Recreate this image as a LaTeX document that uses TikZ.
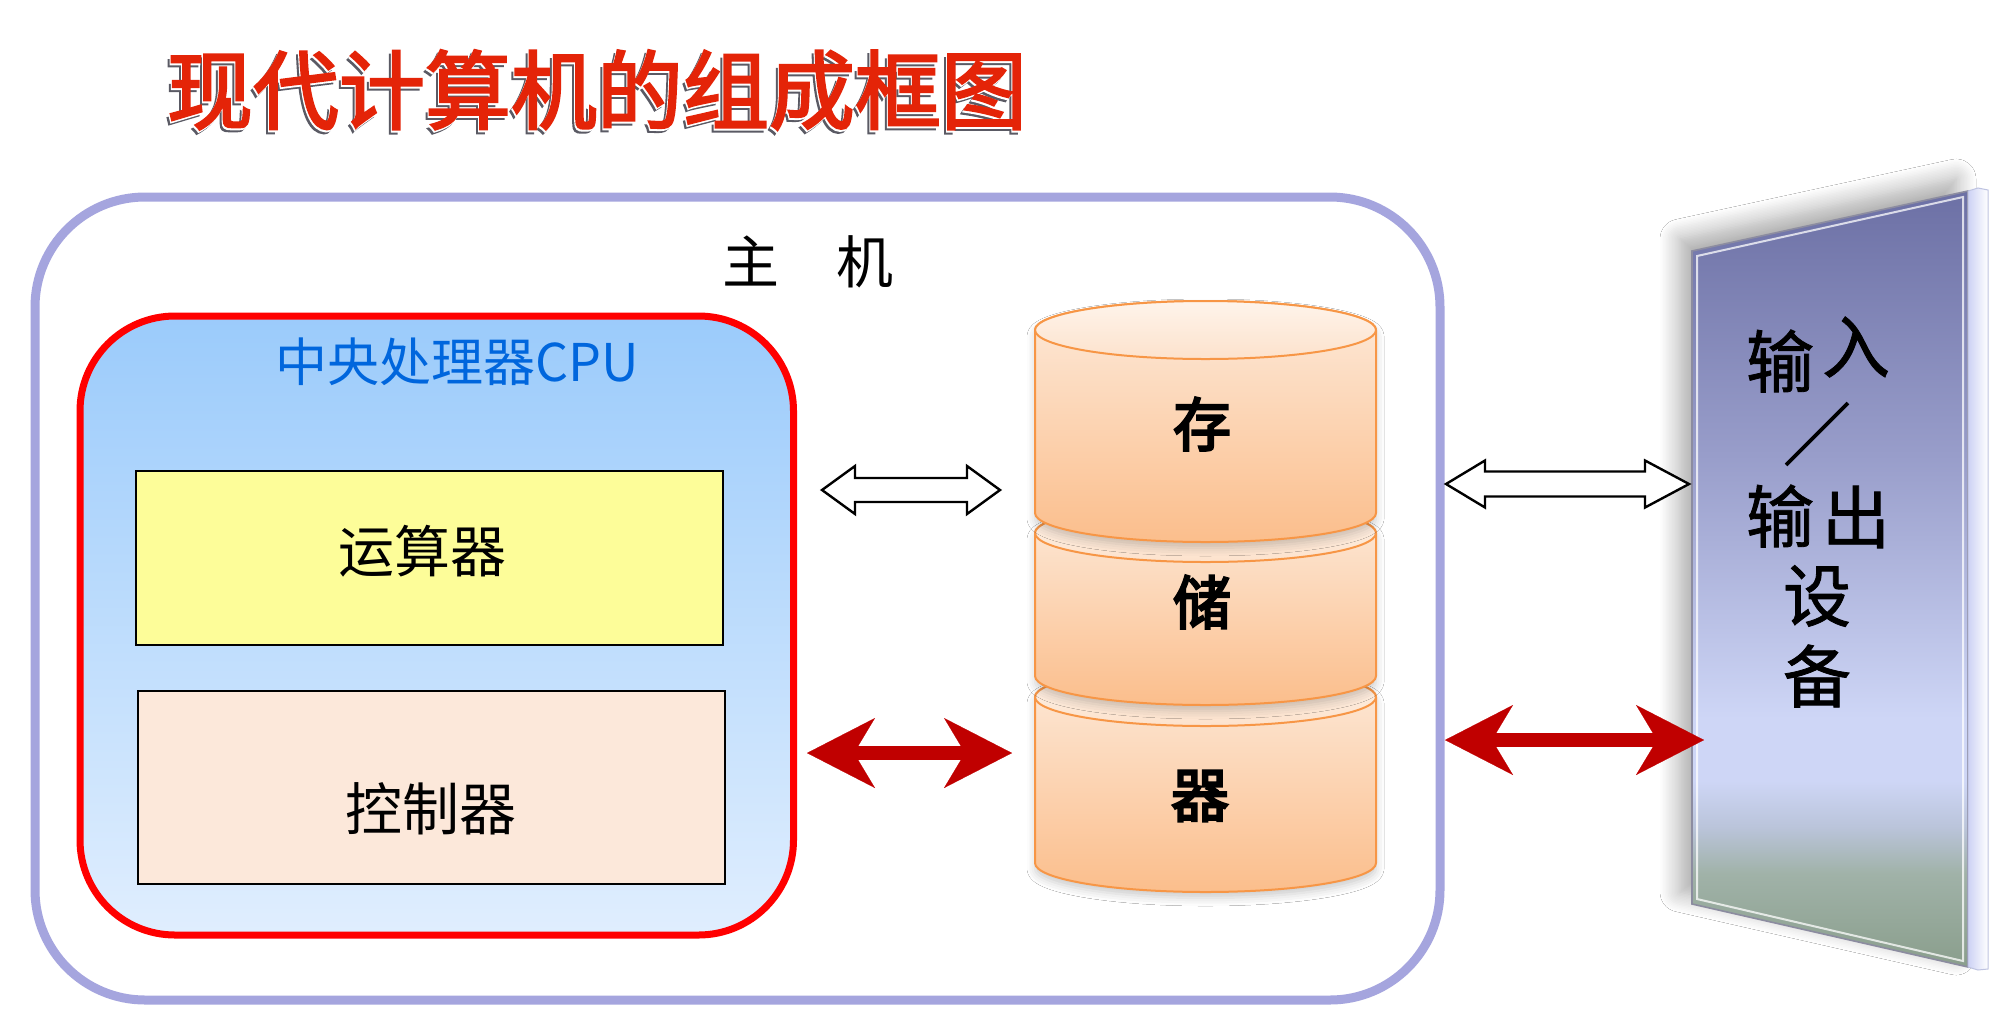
\documentclass[tikz,border=0pt]{standalone}
\usepackage{fontspec}
\usetikzlibrary{calc,arrows.meta,shadows.blur}
\newfontfamily\cjk{Noto Sans CJK SC}
\newfontfamily\cjktitle{Noto Sans CJK SC}[FakeBold=2.5]
\newfontfamily\cjkfb{Noto Sans CJK SC}[FakeBold=4]
\newfontfamily\cjkio{Noto Sans CJK SC}[FakeBold=1.2]
\definecolor{hostc}{RGB}{165,165,222}
\definecolor{cpured}{RGB}{255,0,0}
\definecolor{cputop}{RGB}{155,203,251}
\definecolor{cpubot}{RGB}{224,238,254}
\definecolor{aluf}{RGB}{253,253,153}
\definecolor{ctlf}{RGB}{252,232,218}
\definecolor{cyla}{RGB}{253,234,218}
\definecolor{cylb}{RGB}{251,190,140}
\definecolor{cylta}{RGB}{254,244,235}
\definecolor{cyltb}{RGB}{253,226,204}
\definecolor{cylline}{RGB}{247,150,70}
\definecolor{arrred}{RGB}{192,0,0}
\definecolor{titler}{RGB}{228,36,8}
\definecolor{titles}{RGB}{90,90,100}
\definecolor{cpublue}{RGB}{0,102,221}
\definecolor{ioT}{RGB}{108,112,165}
\definecolor{ioM}{RGB}{152,157,202}
\definecolor{ioL}{RGB}{206,214,246}
\definecolor{ioLb}{RGB}{186,196,218}
\definecolor{ioGb}{RGB}{160,178,168}
\definecolor{ioG}{RGB}{138,158,140}
\definecolor{slab}{RGB}{205,210,245}
\definecolor{panedge}{RGB}{140,140,160}
\definecolor{slabedge}{RGB}{190,195,225}
\pgfdeclareverticalshading{iopanel}{100bp}{color(0bp)=(ioG); color(25bp)=(ioG); color(31bp)=(ioGb); color(34bp)=(ioLb); color(37bp)=(ioL); color(41bp)=(ioL); color(58bp)=(ioM); color(75bp)=(ioT); color(100bp)=(ioT)}
\newcommand{\memcyl}[2]{%
  \path[cylbody] (1035,-#1) -- (1035,-#2) arc[start angle=180,end angle=360,x radius=170.5,y radius=29] -- (1376,-#1) arc[start angle=0,end angle=180,x radius=170.5,y radius=29] -- cycle;
  \path[cyltop] (1205.5,-#1) ellipse[x radius=170.5,y radius=29];
}
\newcommand{\titletext}{现代计算机的组成框图}
\begin{document}
\begin{tikzpicture}[x=0.5pt,y=0.5pt,
  txt/.style={inner sep=0pt,outer sep=0pt,anchor=center},
  cylbody/.style={draw=cylline,line width=1pt,top color=cyla,bottom color=cylb,
    blur shadow={shadow xshift=0pt,shadow yshift=-3pt,shadow blur radius=4pt,shadow opacity=20}},
  cyltop/.style={draw=cylline,line width=1pt,top color=cylta,bottom color=cyltb},
  hollow/.style={draw=black,line width=1.2pt,fill=white,line join=miter},
  redarrow/.style={draw=arrred,line width=7pt,
    {Stealth[length=34pt,width=35pt,inset=10.5pt,line width=0.1pt]}-{Stealth[length=34pt,width=35pt,inset=10.5pt,line width=0.1pt]}},
  innerbox/.style={draw=black,line width=0.9pt,inner sep=0pt},
  titlefont/.style={font=\cjktitle\fontsize{43}{43}\selectfont}]
\useasboundingbox (0,0) rectangle (2006,-1029);
\fill[white] (0,0) rectangle (2006,-1029);

% title
\node[txt,titlefont,text=titles] (titleshadow) at (594,-94) {\titletext};
\node[txt,titlefont,text=white] (titleedge) at (596,-92) {\titletext};
\node[txt,titlefont,text=titler] (title) at (597,-90) {\titletext};

% host box
\node[draw=hostc,line width=4.5pt,rounded corners=55pt,fill=white,
  minimum width=702.5pt,minimum height=401.5pt,inner sep=0pt] (host) at (737.5,-598.5) {};
\node[txt,font=\cjk\fontsize{28.5}{28.5}\selectfont] (hostlabel) at (808,-262) {主　机};

% CPU
\node[draw=cpured,line width=3.5pt,rounded corners=47.5pt,top color=cputop,bottom color=cpubot,
  minimum width=356.75pt,minimum height=309.5pt,inner sep=0pt] (cpu) at (436.75,-625.5) {};
\node[txt,font=\cjk\fontsize{26}{26}\selectfont,text=cpublue] (cpulabel) at (457,-362) {中央处理器CPU};
\node[innerbox,fill=aluf,minimum width=293.5pt,minimum height=87pt] (alu) at (429.5,-558) {};
\node[txt,font=\cjk\fontsize{28}{28}\selectfont] (alulabel) at (422,-551) {运算器};
\node[innerbox,fill=ctlf,minimum width=293.5pt,minimum height=96.5pt] (ctl) at (431.5,-787.5) {};
\node[txt,font=\cjk\fontsize{28.5}{28.5}\selectfont] (ctllabel) at (431,-809) {控制器};

% memory cylinders
\memcyl{697}{863}
\memcyl{533}{676}
\memcyl{330}{513}
\node[txt,font=\cjkfb\fontsize{29}{29}\selectfont] (mem1) at (1202,-424) {存};
\node[txt,font=\cjkfb\fontsize{29}{29}\selectfont] (mem2) at (1202,-602) {储};
\node[txt,font=\cjkfb\fontsize{29}{29}\selectfont] (mem3) at (1200,-796) {器};

% I/O panel
\coordinate (pTL) at (1692,-251);
\coordinate (pTR) at (1968,-191);
\coordinate (pBR) at (1968,-967);
\coordinate (pBL) at (1692,-904);
\path[fill=white,blur shadow={shadow xshift=-6pt,shadow yshift=6pt,shadow blur radius=10pt,shadow opacity=35,shadow blur steps=14}]
  (pTL) -- (pTR) -- (pBR) -- (pBL) -- cycle;
\path[shading=iopanel,draw=panedge,line width=0.8pt] (pTL) -- (pTR) -- (pBR) -- (pBL) -- cycle;
\draw[white,opacity=0.75,line width=1pt] ($(pTL)+(5,-5)$) -- ($(pTR)+(-5,-6)$) -- ($(pBR)+(-5,6)$) -- ($(pBL)+(5,5)$) -- cycle;
\path[left color=slab,right color=white,draw=slabedge,line width=0.5pt]
  (pTR) -- ++(10,3) -- ++(10,-2) -- ($(pBR)+(20,-2)$) -- ++(-10,-1) -- (pBR) -- cycle;
\node[txt,font=\cjkio\fontsize{34}{34}\selectfont] (io1) at (1780,-361) {输};
\node[txt,font=\cjkio\fontsize{34}{34}\selectfont] (io2) at (1856,-347) {入};
\node[txt,font=\cjkio\fontsize{34}{34}\selectfont] (io3) at (1817,-434) {／};
\node[txt,font=\cjkio\fontsize{34}{34}\selectfont] (io4) at (1780,-516) {输};
\node[txt,font=\cjkio\fontsize{34}{34}\selectfont] (io5) at (1856,-517) {出};
\node[txt,font=\cjkio\fontsize{34}{34}\selectfont] (io6) at (1817,-596) {设};
\node[txt,font=\cjkio\fontsize{34}{34}\selectfont] (io7) at (1817,-676) {备};

% arrows CPU <-> memory
\coordinate (wl1) at (822,-490);
\coordinate (wl2) at (1000,-490);
\draw[hollow] (wl1) -- ++(33,24) -- ++(0,-12) -- ($(wl2)+(-33,12)$) -- ++(0,12) -- (wl2)
  -- ++(-33,-24) -- ++(0,12) -- ($(wl1)+(33,-12)$) -- ++(0,-12) -- cycle;
\coordinate (rl1) at (807,-753);
\coordinate (rl2) at (1012,-753);
\draw[redarrow] (rl1) -- (rl2);

% arrows host <-> IO
\coordinate (wr1) at (1446,-484);
\coordinate (wr2) at (1689,-484);
\draw[hollow] (wr1) -- ++(39,23.5) -- ++(0,-11) -- ($(wr2)+(-44,12.5)$) -- ++(0,11) -- (wr2)
  -- ++(-44,-23.5) -- ++(0,11) -- ($(wr1)+(39,-12.5)$) -- ++(0,-11) -- cycle;
\coordinate (rr1) at (1445,-740);
\coordinate (rr2) at (1704,-740);
\draw[redarrow] (rr1) -- (rr2);
\end{tikzpicture}
\end{document}
